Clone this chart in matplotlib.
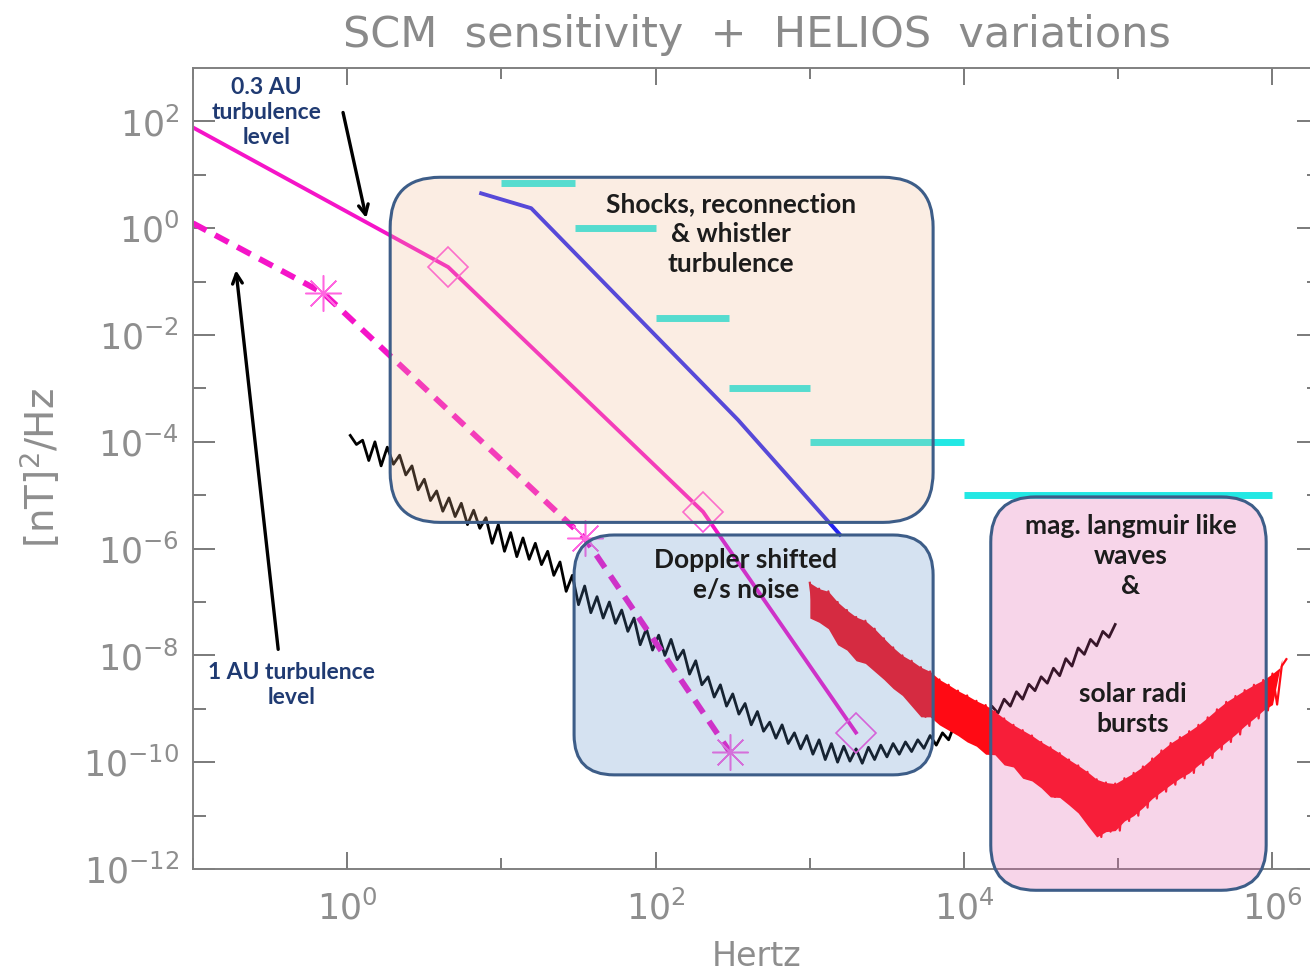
import matplotlib.pyplot as plt
import numpy as np
from matplotlib.patches import FancyBboxPatch
from matplotlib.ticker import FixedLocator, LogFormatterMathtext, NullFormatter

# turbulence levels, break points (Hz, nT^2/Hz)
au03_f = [0.1, 4.52, 203, 1990]
au03_psd = [77, 0.187, 4.9e-6, 3.6e-10]
au1_f = [0.1, 0.70, 34.9, 303]
au1_psd = [1.24, 0.061, 1.55e-6, 1.55e-10]

# shocks / whistler level
whistler_f = [7.39, 15.6, 342, 1567]
whistler_psd = [4.5, 2.37, 2.58e-4, 1.83e-6]

# HELIOS variation steps
helios_edges = [10, 30, 100, 300, 1000, 1e4, 1e6]
helios_levels = [7, 1.0, 0.021, 1e-3, 1e-4, 1e-5]

# SCM sensitivity (log10 Hz, log10 nT^2/Hz)
scm_log_f = [0.02, 0.06, 0.10, 0.14, 0.18, 0.22, 0.26, 0.30, 0.34, 0.38,
             0.42, 0.46, 0.50, 0.54, 0.58, 0.62, 0.66, 0.70, 0.74, 0.78,
             0.82, 0.86, 0.90, 0.94, 0.98, 1.02, 1.06, 1.10, 1.14, 1.18,
             1.22, 1.26, 1.30, 1.34, 1.38, 1.42, 1.46, 1.50, 1.54, 1.58,
             1.62, 1.66, 1.70, 1.74, 1.78, 1.82, 1.86, 1.90, 1.94, 1.98,
             2.02, 2.06, 2.10, 2.14, 2.18, 2.22, 2.26, 2.30, 2.34, 2.38,
             2.42, 2.46, 2.50, 2.54, 2.58, 2.62, 2.66, 2.70, 2.74, 2.78,
             2.82, 2.86, 2.90, 2.94, 2.98, 3.02, 3.06, 3.10, 3.14, 3.18,
             3.22, 3.26, 3.30, 3.34, 3.38, 3.42, 3.46, 3.50, 3.54, 3.58,
             3.62, 3.66, 3.70, 3.74, 3.78, 3.82, 3.86, 3.90, 3.94, 3.98,
             4.02, 4.06, 4.10, 4.14, 4.18, 4.22, 4.26, 4.30, 4.34, 4.38,
             4.42, 4.46, 4.50, 4.54, 4.58, 4.62, 4.66, 4.70, 4.74, 4.78,
             4.82, 4.86, 4.90, 4.94, 4.98]
scm_log_psd = [-3.88, -4.05, -3.97, -4.35, -4.00, -4.45, -4.10, -4.42, -4.25, -4.62,
               -4.45, -4.90, -4.70, -5.10, -4.92, -5.30, -5.05, -5.40, -5.15, -5.55,
               -5.28, -5.62, -5.42, -5.90, -5.55, -6.05, -5.70, -6.15, -5.80, -6.20,
               -5.90, -6.30, -6.05, -6.50, -6.25, -6.80, -6.50, -7.05, -6.70, -7.20,
               -6.90, -7.30, -7.00, -7.40, -7.15, -7.55, -7.30, -7.80, -7.50, -7.90,
               -7.62, -8.00, -7.70, -8.08, -7.90, -8.35, -8.10, -8.55, -8.40, -8.78,
               -8.55, -8.95, -8.72, -9.10, -8.90, -9.30, -9.05, -9.42, -9.25, -9.55,
               -9.30, -9.65, -9.45, -9.75, -9.50, -9.85, -9.58, -9.95, -9.65, -10.00,
               -9.70, -9.98, -9.75, -10.02, -9.72, -9.95, -9.68, -9.90, -9.65, -9.85,
               -9.62, -9.80, -9.58, -9.74, -9.50, -9.68, -9.45, -9.58, -9.28, -9.45,
               -9.15, -9.32, -9.05, -9.22, -8.95, -9.08, -8.82, -8.95, -8.68, -8.82,
               -8.54, -8.66, -8.40, -8.52, -8.24, -8.38, -8.06, -8.20, -7.86, -7.98,
               -7.70, -7.82, -7.55, -7.66, -7.42]

# second search coil noise (red)
hf_log_f = [3.00, 3.03, 3.06, 3.09, 3.12, 3.15, 3.18, 3.21, 3.24, 3.27,
            3.30, 3.33, 3.36, 3.39, 3.42, 3.45, 3.48, 3.51, 3.54, 3.57,
            3.60, 3.63, 3.66, 3.69, 3.72, 3.75, 3.78, 3.81, 3.84, 3.87,
            3.90, 3.93, 3.96, 3.99, 4.02, 4.05, 4.08, 4.11, 4.14, 4.17,
            4.20, 4.23, 4.26, 4.29, 4.32, 4.35, 4.38, 4.41, 4.44, 4.47,
            4.50, 4.53, 4.56, 4.59, 4.62, 4.65, 4.68, 4.71, 4.74, 4.77,
            4.80, 4.83, 4.86, 4.89, 4.92, 4.95, 4.98, 5.01, 5.04, 5.07,
            5.10, 5.13, 5.16, 5.19, 5.22, 5.25, 5.28, 5.31, 5.34, 5.37,
            5.40, 5.43, 5.46, 5.49, 5.52, 5.55, 5.58, 5.61, 5.64, 5.67,
            5.70, 5.73, 5.76, 5.79, 5.82, 5.85, 5.88, 5.91, 5.94, 5.97,
            6.00, 6.03, 6.06, 6.09]
hf_log_psd = [-6.64, -7.30, -6.75, -7.38, -6.80, -7.50, -7.00, -7.80, -7.15, -7.90,
              -7.28, -8.10, -7.35, -8.15, -7.50, -8.30, -7.68, -8.45, -7.85, -8.62,
              -8.00, -8.75, -8.10, -8.95, -8.22, -9.15, -8.30, -9.15, -8.45, -9.30,
              -8.55, -9.40, -8.66, -9.50, -8.75, -9.62, -8.85, -9.70, -8.93, -9.85,
              -9.05, -9.86, -9.18, -10.05, -9.30, -10.09, -9.40, -10.30, -9.50, -10.35,
              -9.62, -10.48, -9.72, -10.65, -9.83, -10.66, -9.95, -10.80, -10.06, -10.95,
              -10.18, -11.18, -10.32, -11.40, -10.38, -11.30, -10.40, -11.28, -10.30, -11.10,
              -10.20, -11.00, -10.08, -10.85, -9.93, -10.68, -9.78, -10.55, -9.64, -10.42,
              -9.53, -10.30, -9.42, -10.20, -9.30, -10.05, -9.16, -9.92, -9.01, -9.76,
              -8.87, -9.62, -8.76, -9.48, -8.65, -9.32, -8.55, -9.18, -8.46, -9.03,
              -8.34, -8.92, -8.20, -8.07]

# regions: (f0, f1, psd0, psd1), colour, corner radius px
regions = [
    ((1.9, 6300, 3.1e-6, 9.0), "#f3bb93", 50),
    ((29.6, 6300, 5.8e-11, 1.8e-6), "#5b8fcb", 40),
    ((1.49e4, 9.1e5, 4e-13, 9.3e-6), "#e35bab", 45),
]
region_text = [
    ("Shocks, reconnection\n& whistler\nturbulence", 308, 0.77),
    ("Doppler shifted\ne/s noise", 385, 3.2e-7),
    ("mag. langmuir like\nwaves\n&", 1.2e5, 7.4e-7),
    ("solar radi\nbursts", 1.24e5, 9.8e-10),
]

gray = "#8e8e8e"
magenta = "#f514c8"
bold_font = ["Lato", "DejaVu Sans"]

fig = plt.figure(figsize=(13.1, 9.76), dpi=100)
ax = fig.add_axes([0.1473, 0.1096, 0.8595, 0.8207])
ax.set_xscale("log")
ax.set_yscale("log")
ax.set_xlim(0.1, 2e6)
ax.set_ylim(1e-12, 1e3)

scm_f = 10.0 ** np.array(scm_log_f)
scm_psd = 10.0 ** np.array(scm_log_psd)
hf_f = 10.0 ** np.array(hf_log_f)
hf_psd = 10.0 ** np.array(hf_log_psd)

ax.plot(scm_f, scm_psd, color="black", lw=2.0, zorder=2)
ax.fill_between(hf_f[0::2], hf_psd[0::2], hf_psd[1::2], color="#ff0a14",
                lw=0, zorder=2.1)
ax.plot(hf_f, hf_psd, color="#ff0a14", lw=1.6, zorder=2.1)

ax.plot(au03_f, au03_psd, color=magenta, lw=2.8, zorder=2.2)
ax.plot(au03_f[1:], au03_psd[1:], ls="none", marker="D", ms=20, mfc="none",
        mec="#ff55dd", mew=1.2, zorder=2.2)
ax.plot(au1_f, au1_psd, color=magenta, lw=4.2, dashes=(2.6, 1.7), zorder=2.2)
ax.plot(au1_f[1:], au1_psd[1:], ls="none", marker=(8, 2, 0), ms=26,
        mec="#ff66e0", mew=1.1, zorder=2.2)

ax.plot(whistler_f, whistler_psd, color="#2323f0", lw=2.8, zorder=2.2)
ax.hlines(helios_levels, helios_edges[:-1], helios_edges[1:], color="#22e8e4",
          lw=5, zorder=2.2)

# shaded regions on top of the curves
fig_w, fig_h = fig.get_size_inches() * fig.dpi
pos = ax.get_position()
ax_w, ax_h = pos.width * fig_w, pos.height * fig_h
to_axes = ax.transData + ax.transAxes.inverted()
for (f0, f1, p0, p1), col, rad in regions:
    (u0, v0), (u1, v1) = to_axes.transform([(f0, p0), (f1, p1)])
    box = FancyBboxPatch((u0, v0), u1 - u0, v1 - v0,
                         boxstyle="round,pad=0,rounding_size=%f" % (rad / ax_w),
                         mutation_aspect=ax_w / ax_h, transform=ax.transAxes,
                         facecolor=plt.matplotlib.colors.to_rgba(col, 0.25),
                         edgecolor="#3d5d88", lw=2.2, clip_on=False, zorder=3)
    ax.add_patch(box)

for txt, fx, py in region_text:
    ax.text(fx, py, txt, ha="center", va="center", fontsize=19, fontweight="bold",
            family=bold_font, color="#1c1c1c", linespacing=1.3, zorder=5)

ax.text(0.30, 147, "0.3 AU\nturbulence\nlevel", ha="center", va="center",
        fontsize=16.5, fontweight="bold", family=bold_font, color="#1f3a72",
        linespacing=1.25, zorder=5)
ax.text(0.434, 2.75e-9, "1 AU turbulence\nlevel", ha="center", va="center",
        fontsize=16.5, fontweight="bold", family=bold_font, color="#1f3a72",
        linespacing=1.25, zorder=5)

arrow = dict(arrowstyle="->,head_length=0.7,head_width=0.35", lw=2.4,
             color="black", shrinkA=0, shrinkB=0)
ax.annotate("", xy=(1.33, 1.55), xytext=(0.94, 147), arrowprops=arrow, zorder=5)
ax.annotate("", xy=(0.19, 0.164), xytext=(0.357, 1.3e-8), arrowprops=arrow, zorder=5)

# axes styling
ax.xaxis.set_major_locator(FixedLocator([1, 1e2, 1e4, 1e6]))
ax.xaxis.set_minor_locator(FixedLocator([0.1, 10, 1e3, 1e5]))
ax.yaxis.set_major_locator(FixedLocator([1e-12, 1e-10, 1e-8, 1e-6, 1e-4, 1e-2, 1, 1e2]))
ax.yaxis.set_minor_locator(FixedLocator([1e-11, 1e-9, 1e-7, 1e-5, 1e-3, 1e-1, 10]))
ax.xaxis.set_major_formatter(LogFormatterMathtext())
ax.yaxis.set_major_formatter(LogFormatterMathtext())
ax.xaxis.set_minor_formatter(NullFormatter())
ax.yaxis.set_minor_formatter(NullFormatter())

ax.tick_params(which="both", direction="in", top=True, right=True,
               color="#6f6f6f", labelcolor=gray, width=1.3)
ax.tick_params(axis="y", which="major", length=16, pad=10, labelsize=25)
ax.tick_params(axis="y", which="minor", length=9)
ax.tick_params(axis="x", which="major", length=12, pad=15, labelsize=25)
ax.tick_params(axis="x", which="minor", length=8)
for sp in ax.spines.values():
    sp.set_color("#808080")
    sp.set_linewidth(1.4)

ax.set_xlabel("Hertz", fontsize=24, color=gray)
ax.xaxis.set_label_coords(0.501, -0.088)
ax.set_ylabel(r"[nT]$^2$/Hz", fontsize=28, color=gray)
ax.yaxis.set_label_coords(-0.115, 0.5)

fig.text(757 / 1310, 0.952, "SCM  sensitivity  +  HELIOS  variations", ha="center",
         va="baseline", fontsize=31, color="#8a8a8a")

fig.savefig("out.png", dpi=100)
